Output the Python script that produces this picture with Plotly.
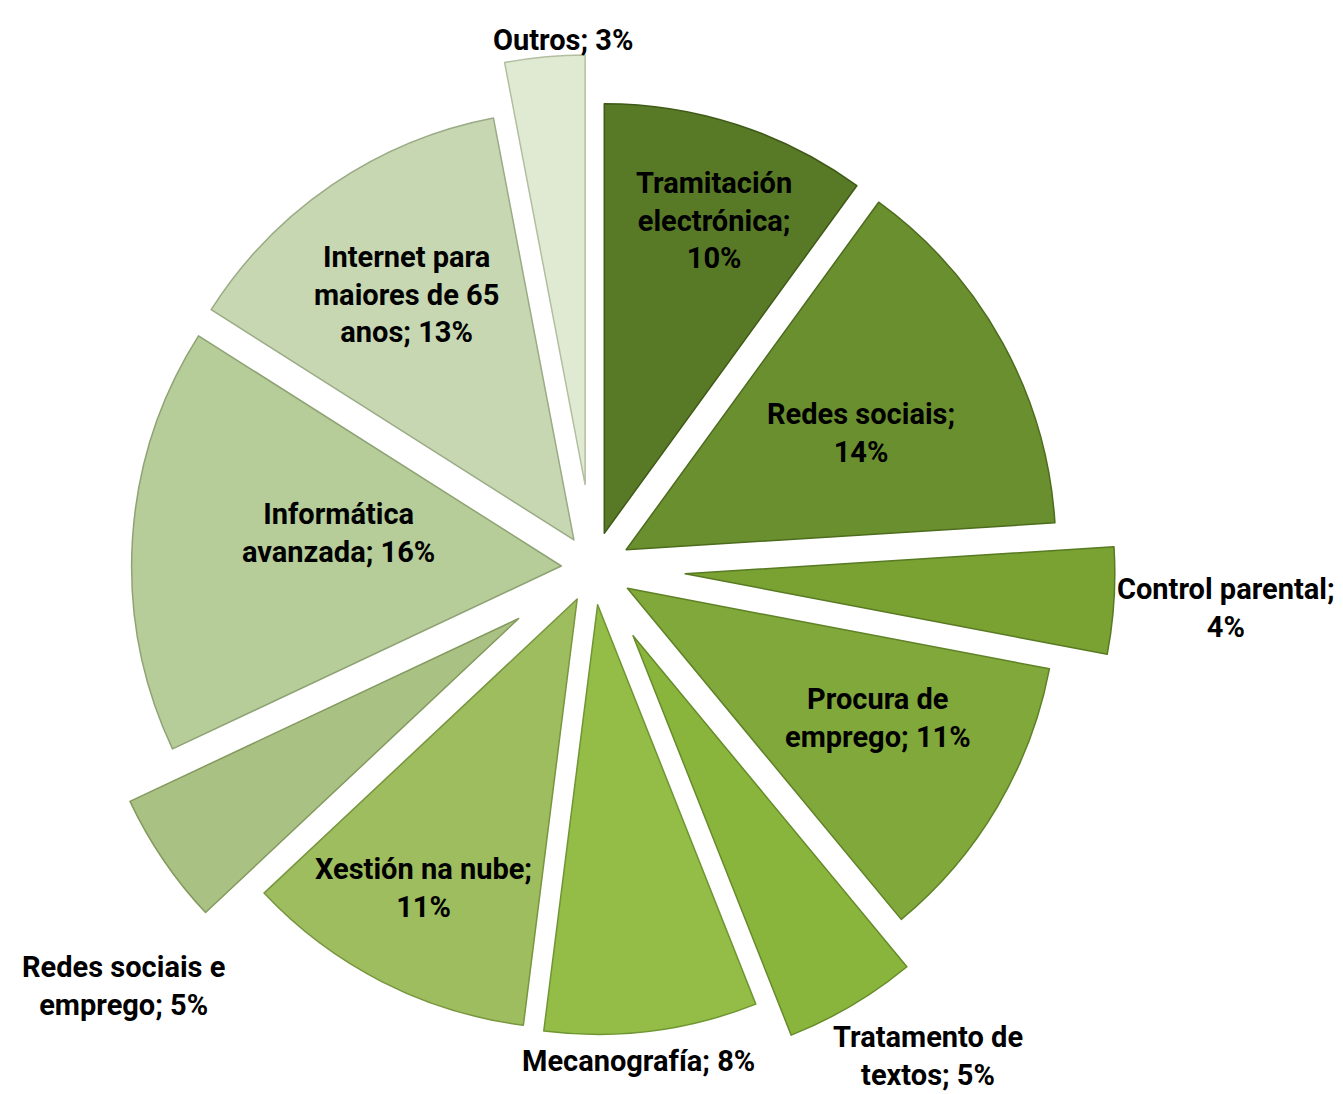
import plotly.graph_objects as go

labels = ["Tramitación<br>electrónica", "Redes sociais", "Control parental", "Procura de<br>emprego",
          "Tratamento de<br>textos", "Mecanografía", "Xestión na nube", "Redes sociais e<br>emprego",
          "Informática<br>avanzada", "Internet para<br>maiores de 65<br>anos", "Outros"]
label_sep = [";<br>", ";<br>", ";<br>", "; ", "; ", "; ", ";<br>", "; ", "; ", "; ", "; "]
values = [10, 14, 4, 11, 5, 8, 11, 5, 16, 13, 3]
pulls = [0.085, 0.088, 0.215, 0.093, 0.183, 0.086, 0.081, 0.209, 0.074, 0.079, 0.195]
colors = ["#587a26", "#6a8f2e", "#79a232", "#80a83a", "#8ab53d", "#93bd47", "#9dbd5e",
          "#a9c283", "#b6cc99", "#c6d7b1", "#e0ead2"]
edges = ["#3f5a18", "#4d6c1e", "#587a22", "#5f8226", "#668b2a", "#6f9632", "#78963f",
         "#83995e", "#8ea374", "#9aab86", "#b2bea0"]
# label centres in pixels
label_xy = [(706, 213), (853, 425), (1218, 600), (870, 710), (920, 1048), (630, 1053),
            (415, 880), (115, 978), (330, 525), (398, 287), (555, 32)]

texts = [f"{l}{s}{v}%" for l, s, v in zip(labels, label_sep, values)]

W, H = 1343, 1094
cx, cy, half = 585, 560, 522

fig = go.Figure(go.Pie(
    labels=[l.replace("<br>", " ") for l in labels],
    values=values,
    textinfo="none",
    pull=pulls,
    sort=False,
    direction="clockwise",
    rotation=0,
    marker=dict(colors=colors, line=dict(color=edges, width=1.5)),
    hoverinfo="label+percent",
    domain=dict(x=[(cx - half) / W, (cx + half) / W],
                y=[1 - (cy + half) / H, 1 - (cy - half) / H]),
))

FONT = "Roboto, Liberation Sans, sans-serif"
for t, (x, y) in zip(texts, label_xy):
    fig.add_annotation(x=x / W, y=1 - y / H, xref="paper", yref="paper", text=t,
                       showarrow=False, xanchor="center", yanchor="middle", align="center",
                       font=dict(family=FONT, size=29, color="black", weight="bold"))

fig.update_layout(
    width=W, height=H,
    margin=dict(l=0, r=0, t=0, b=0),
    showlegend=False,
    paper_bgcolor="white",
    plot_bgcolor="white",
)

fig.write_html("out.html")
